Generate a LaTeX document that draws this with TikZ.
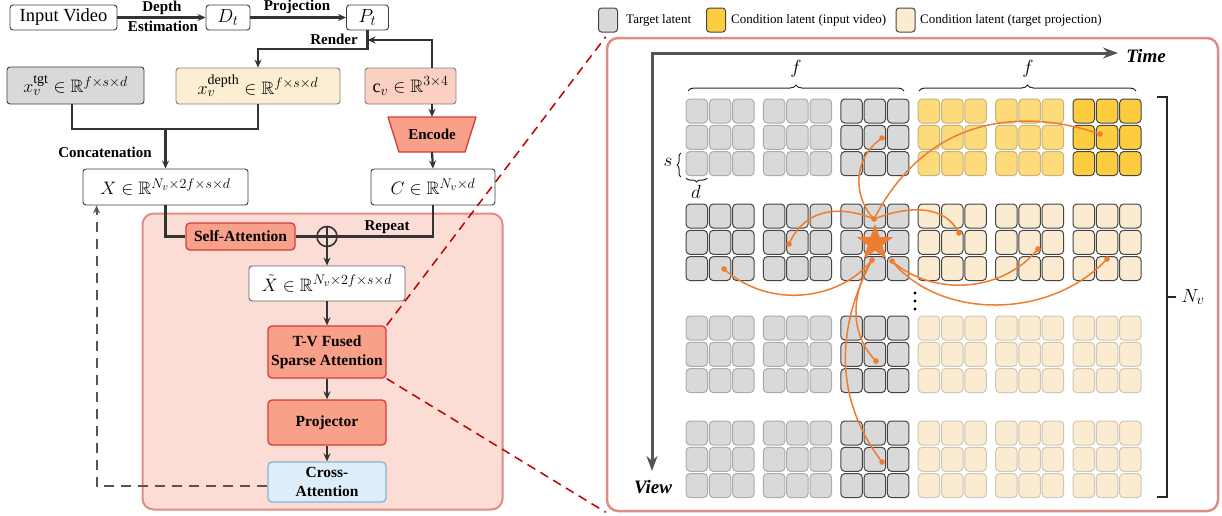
\RequirePackage{fix-cm}
\documentclass[tikz,border=0pt]{standalone}
\usepackage{fontspec}
\setmainfont{Liberation Serif}
\usepackage{amssymb}
\DeclareMathSizes{18}{18}{14}{11}
\DeclareMathSizes{19}{19}{14.5}{11}
\usetikzlibrary{arrows.meta,shapes.geometric,decorations.pathreplacing,calc}

\definecolor{boxline}{HTML}{3F3F3F}
\definecolor{flow}{HTML}{333333}
\definecolor{tgtgray}{HTML}{D9D9D9}
\definecolor{depthfill}{HTML}{FCEED3}
\definecolor{depthline}{HTML}{7F7F7F}
\definecolor{camfill}{HTML}{FBCFC2}
\definecolor{camline}{HTML}{7F7F7F}
\definecolor{salmon}{HTML}{F9A08B}
\definecolor{salmonline}{HTML}{D43D33}
\definecolor{blockfill}{HTML}{FCDDD5}
\definecolor{blockline}{HTML}{E08C84}
\definecolor{crossfill}{HTML}{DDEDF9}
\definecolor{crossline}{HTML}{86B3D8}
\definecolor{zoomred}{HTML}{C00000}
\definecolor{yellowlight}{HTML}{FEDB7A}
\definecolor{yellowdeep}{HTML}{FECD3F}
\definecolor{creamfill}{HTML}{FBECD1}
\definecolor{attn}{HTML}{ED7D31}
\definecolor{axisgray}{HTML}{555555}
\definecolor{softgray}{HTML}{ABABAB}
\definecolor{softyellow}{HTML}{C9B27A}
\definecolor{softcream}{HTML}{CFC6B4}
\definecolor{cellline}{HTML}{454545}

\tikzset{
  lbox/.style={draw=boxline, line width=0.9pt, rounded corners=3pt, inner sep=0pt},
  flowarrow/.style={draw=flow, line width=2.2pt, -{Stealth[length=8pt,width=7pt]}},
  flowline/.style={draw=flow, line width=2.2pt},
  lbl/.style={font=\fontsize{15}{17}\selectfont\bfseries, inner sep=0pt},
  mathtxt/.style={font=\fontsize{18}{20}\selectfont},
  hotbox/.style={draw=salmonline, fill=salmon, line width=1.3pt, rounded corners=4pt,
    inner sep=0pt, font=\fontsize{15.5}{19}\selectfont\bfseries, align=center},
  latentcell/.style={rounded corners=4pt, line width=1pt},
  cellGL/.style={fill=tgtgray, draw=softgray},
  cellGD/.style={fill=tgtgray, draw=cellline},
  cellYL/.style={fill=yellowlight, draw=softyellow},
  cellYD/.style={fill=yellowdeep, draw=cellline},
  cellCL/.style={fill=creamfill, draw=softcream},
  cellCD/.style={fill=creamfill, draw=cellline},
  legendcell/.style={rounded corners=3pt, line width=1pt, draw=cellline,
    minimum width=19pt, minimum height=24pt, inner sep=0pt},
  legendtxt/.style={anchor=west, inner sep=0pt, font=\fontsize{13}{15}\selectfont},
  attnline/.style={draw=attn, line width=1.5pt},
  bracebar/.style={draw=black!85, line width=1pt, decorate},
}

% one 3x3 group of latent tokens: #1 left x, #2 top y, #3 cell style
\newcommand\latentgroup[3]{%
  \foreach \ci in {0,1,2}{%
    \foreach \ri in {0,1,2}{%
      \path[latentcell,#3] ({#1+\ci*23.3},{#2+\ri*26.3}) rectangle ++(21.5,24);
    }}}
% a row of six groups at top y #1 with the six styles #2
\newcommand\latentblock[2]{%
  \foreach \gx/\st [count=\gi] in {#2}{%
    \edef\lgcall{\noexpand\latentgroup{\gx}{#1}{\st}}\lgcall}}

\begin{document}
\begin{tikzpicture}[x=1pt,y=-1pt]
\useasboundingbox (0,0) rectangle (1222,515);

% ---------------- left: data preparation ----------------
\node[lbox, minimum width=107pt, minimum height=25pt, font=\fontsize{18.5}{20}\selectfont] (vid) at (63.5,17.5) {Input Video};
\node[lbox, minimum width=44pt, minimum height=25pt, font=\fontsize{19}{20}\selectfont] (dt) at (228,17.5) {$D_t$};
\node[lbox, minimum width=42pt, minimum height=25pt, font=\fontsize{19}{20}\selectfont] (pt) at (367.5,17.5) {$P_t$};
\draw[flowarrow] (vid) -- (dt);
\draw[flowarrow] (dt) -- (pt);
\node[lbl] (lDepth) at (162,8) {Depth};
\node[lbl] (lEst) at (163,26) {Estimation};
\node[lbl] (lProj) at (297,7) {Projection};

\node[lbox, fill=tgtgray, minimum width=137pt, minimum height=37pt, mathtxt] (xt) at (75.5,85.5)
  {$x_v^{\mathrm{tgt}}\in\mathbb{R}^{f\times s\times d}$};
\node[lbox, draw=depthline, fill=depthfill, minimum width=164pt, minimum height=36pt, mathtxt] (xd) at (258,86)
  {$x_v^{\mathrm{depth}}\in\mathbb{R}^{f\times s\times d}$};
\node[lbox, draw=camline, fill=camfill, minimum width=91pt, minimum height=36pt, mathtxt] (cv) at (410.5,86)
  {$\mathrm{c}_v\in\mathbb{R}^{3\times 4}$};

% render path from the projection and the camera
\coordinate (rbend) at (367.5,49);
\coordinate (rjoin) at (367.5,40);
\draw[flowarrow] (pt.south) -- (rbend) -| (xd.north);
\node[lbl, anchor=east] (lRender) at (358,39) {Render};

% encoder for the camera parameters
\filldraw[fill=salmon, draw=salmonline, line width=1.3pt, line join=round]
  (388,117) -- (476,117) -- (465,152) -- (399,152) -- cycle;
\node[lbl, minimum width=88pt, minimum height=35pt] (enc) at (432,134.5) {Encode};
\draw[flowarrow] (cv.north -| enc.north) |- (rjoin);
\draw[flowarrow] (cv.south -| enc.north) -- (enc.north);

\node[lbox, minimum width=165pt, minimum height=36pt, mathtxt] (X) at (165.5,187)
  {$X\in\mathbb{R}^{N_v\times 2f\times s\times d}$};
\node[lbox, minimum width=124pt, minimum height=36pt, mathtxt] (C) at (433,187)
  {$C\in\mathbb{R}^{N_v\times d}$};
\draw[flowarrow] (enc.south) -- (C.north);

\coordinate (concat) at (165.5,129);
\draw[flowline] ([xshift=-3.5pt]xt.south) |- (concat) -| (xd.south);
\draw[flowarrow] (concat) -- (X.north);
\node[lbl] (lConcat) at (105,152) {Concatenation};

% ---------------- left: transformer block ----------------
\node[draw=blockline, fill=blockfill, line width=2pt, rounded corners=11pt,
  minimum width=360pt, minimum height=296pt, inner sep=0pt] (block) at (322.5,361.5) {};

\node[hotbox, minimum width=109pt, minimum height=27pt] (sa) at (240.5,236.5) {Self-Attention};
\node[draw=flow, line width=1.6pt, circle, minimum size=20pt, inner sep=0pt] (plus) at (327,236.5) {};
\draw[draw=flow, line width=1.6pt] (plus.north) -- (plus.south);
\draw[flowline] (X.south) |- (sa.west);
\draw[flowline] (sa.east) -- (plus.east);
\draw[flowline] (C.south) |- (plus.east);
\node[lbl] (lRepeat) at (387,227) {Repeat};

\node[lbox, draw=boxline!80, fill=white, minimum width=156pt, minimum height=35pt, mathtxt] (xtil) at (327,283.5)
  {$\tilde{X}\in\mathbb{R}^{N_v\times 2f\times s\times d}$};
\node[hotbox, minimum width=118pt, minimum height=52pt] (tv) at (327,352) {T-V Fused\\Sparse Attention};
\node[hotbox, minimum width=118pt, minimum height=45pt] (proj) at (327,422.5) {Projector};
\node[hotbox, draw=crossline, fill=crossfill, minimum width=118pt, minimum height=40pt] (cross) at (327,482) {Cross-\\Attention};

\draw[flowarrow] (plus.south) -- (xtil.north);
\draw[flowarrow] (xtil.south) -- (tv.north);
\draw[flowarrow] (tv.south) -- (proj.north);
\draw[flowarrow] (proj.south) -- (cross.north);

\draw[draw=axisgray, line width=2pt, dash pattern=on 10pt off 7pt, -{Stealth[length=8pt,width=7pt]}]
  ([yshift=-4pt]cross.west) -| ([xshift=14pt]X.south west);

% ---------------- right: sparse attention pattern ----------------
\node[draw=blockline, fill=white, line width=2.5pt, rounded corners=11pt,
  minimum width=611pt, minimum height=473pt, inner sep=0pt] (panel) at (912.5,274.5) {};
\draw[zoomred, line width=1.5pt, dash pattern=on 9pt off 6pt] (tv.north east) -- (panel.north west);
\draw[zoomred, line width=1.5pt, dash pattern=on 9pt off 6pt] (tv.south east) -- (panel.south west);

% legend
\node[legendcell, fill=tgtgray] (lg1) at (608,20) {};
\node[legendtxt] (lt1) at (626,20) {Target latent};
\node[legendcell, fill=yellowdeep] (lg2) at (716,20) {};
\node[legendtxt] (lt2) at (731,20) {Condition latent (input video)};
\node[legendcell, fill=creamfill] (lg3) at (905.5,20) {};
\node[legendtxt] (lt3) at (920,20) {Condition latent (target projection)};

% axes
\coordinate (origin) at (652,53);
\coordinate (tend) at (1118,53);
\coordinate (vend) at (652,471);
\draw[axisgray, line width=3pt, line join=miter,
  {Stealth[length=15pt,width=11pt]}-{Stealth[length=15pt,width=11pt]}] (vend) -- (origin) -- (tend);
\node[font=\fontsize{19}{20}\selectfont\bfseries\itshape] (lTime) at (1146,56) {Time};
\node[font=\fontsize{19}{20}\selectfont\bfseries\itshape] (lView) at (653,487) {View};

% latent tokens: four views, six frames each
\latentblock{99}{686/cellGL,763.4/cellGL,840.8/cellGD,918.2/cellYL,995.6/cellYL,1073/cellYD}
\latentblock{204}{686/cellGD,763.4/cellGD,840.8/cellGD,918.2/cellCD,995.6/cellCD,1073/cellCD}
\latentblock{316}{686/cellGL,763.4/cellGL,840.8/cellGD,918.2/cellCL,995.6/cellCL,1073/cellCL}
\latentblock{421}{686/cellGL,763.4/cellGL,840.8/cellGD,918.2/cellCL,995.6/cellCL,1073/cellCL}

\fill[black] (915,293) circle (1.7pt) (915,301) circle (1.7pt) (915,309) circle (1.7pt);

% dimension braces
\draw[bracebar, decoration={brace, amplitude=6pt}] (688,91) -- (904,91);
\draw[bracebar, decoration={brace, amplitude=6pt}] (919,91) -- (1136,91);
\node[font=\fontsize{19}{20}\selectfont] (lf1) at (796,69) {$f$};
\node[font=\fontsize{19}{20}\selectfont] (lf2) at (1028,69) {$f$};
\draw[bracebar, decoration={brace, amplitude=4pt}] (681,177) -- (681,153);
\node[font=\fontsize{19}{20}\selectfont] (ls) at (668,162) {$s$};
\draw[bracebar, decoration={brace, amplitude=4pt}] (707,178) -- (686,178);
\node[font=\fontsize{19}{20}\selectfont] (ld) at (696,192) {$d$};
\draw[draw=black!85, line width=1.2pt] (1157,97) -- (1167,97) -- (1167,497) -- (1157,497);
\draw[draw=black!85, line width=1.2pt] (1167,297) -- (1176,297);
\node[font=\fontsize{19}{20}\selectfont] (lNv) at (1193,297) {$N_v$};

% attention links from the query token
\coordinate (qTop) at (874,219);
\coordinate (qBL) at (872,260);
\coordinate (qBR) at (892,261);
\coordinate (k1) at (882,138);
\coordinate (k2) at (1100,134);
\coordinate (k3) at (789,244);
\coordinate (k4) at (959,233);
\coordinate (k5) at (724,269);
\coordinate (k6) at (1038,249);
\coordinate (k7) at (1107,259);
\coordinate (k8) at (876,361);
\coordinate (k9) at (882,462);
\draw[attnline] (qTop) .. controls (855,200) and (850,160) .. (k1);
\draw[attnline] (qTop) .. controls (930,110) and (1030,110) .. (k2);
\draw[attnline] (qTop) .. controls (840,205) and (805,208) .. (k3);
\draw[attnline] (qTop) .. controls (910,205) and (945,205) .. (k4);
\draw[attnline] (qBL) .. controls (840,300) and (770,310) .. (k5);
\draw[attnline] (qBR) .. controls (930,295) and (1000,295) .. (k6);
\draw[attnline] (qBR) .. controls (940,320) and (1050,320) .. (k7);
\draw[attnline] (qBL) .. controls (850,295) and (850,335) .. (k8);
\draw[attnline] (qBL) .. controls (835,330) and (835,400) .. (k9);
\foreach \p in {qTop,qBL,qBR,k1,k2,k3,k4,k5,k6,k7,k8,k9}{\fill[attn] (\p) circle (2.8pt);}
\node[star, star points=5, star point ratio=2.5, fill=attn, minimum size=38pt, inner sep=0pt] (query) at (875,243) {};

\end{tikzpicture}
\end{document}
